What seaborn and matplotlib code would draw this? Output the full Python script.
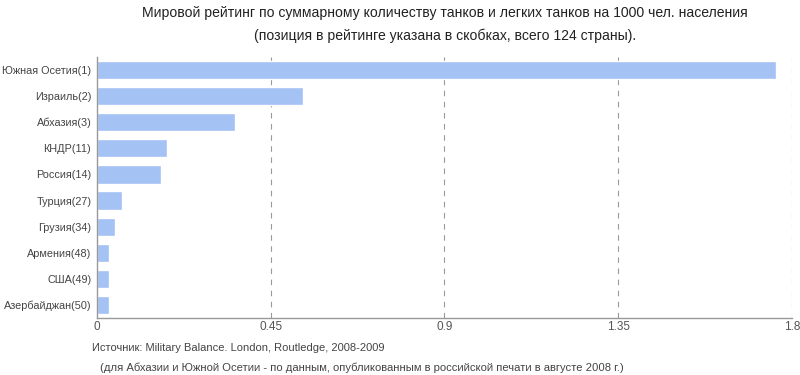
import matplotlib
matplotlib.use("Agg")
import matplotlib.pyplot as plt
import seaborn as sns
import pandas as pd

countries = ["Южная Осетия(1)", "Израиль(2)", "Абхазия(3)", "КНДР(11)", "Россия(14)",
             "Турция(27)", "Грузия(34)", "Армения(48)", "США(49)", "Азербайджан(50)"]
values = [1.759, 0.534, 0.357, 0.181, 0.166, 0.065, 0.047, 0.032, 0.032, 0.031]
x_ticks = [0, 0.45, 0.9, 1.35, 1.8]
x_tick_labels = ["0", "0.45", "0.9", "1.35", "1.8"]

sns.set_style("white")
plt.rcParams["font.family"] = ["Liberation Sans", "DejaVu Sans"]

df = pd.DataFrame({"country": countries, "value": values})

fig = plt.figure(figsize=(8, 3.75), dpi=100)
ax = fig.add_axes([0.121, 0.152, 0.869, 0.696])

sns.barplot(data=df, y="country", x="value", color="#a4c2f4", saturation=1,
            width=0.7, ax=ax)

ax.set_xlim(0, 1.8)
ax.set_ylim(9.5, -0.5)
ax.set_xticks(x_ticks)
ax.set_xticklabels(x_tick_labels)
ax.set_xlabel("")
ax.set_ylabel("")

for x in x_ticks[1:]:
    ax.axvline(x, color="#999999", linestyle=(0, (5, 5)), linewidth=0.8, zorder=0)

for side in ["top", "right"]:
    ax.spines[side].set_visible(False)
for side in ["left", "bottom"]:
    ax.spines[side].set_color("#999999")
    ax.spines[side].set_linewidth(1)

ax.tick_params(axis="y", length=3, color="#999999", labelsize=7.8, labelcolor="#444444", pad=1)
ax.tick_params(axis="x", length=4, color="#999999", labelsize=8.5, labelcolor="#555555", pad=2,
               direction="in")

fig.text(0.556, 0.965, "Мировой рейтинг по суммарному количеству танков и легких танков на 1000 чел. населения",
         ha="center", va="center", fontsize=10.1, color="#222222")
fig.text(0.556, 0.905, "(позиция в рейтинге указана в скобках, всего 124 страны).",
         ha="center", va="center", fontsize=10.1, color="#222222")

fig.text(0.115, 0.072, "Источник: Military Balance. London, Routledge, 2008-2009",
         ha="left", va="center", fontsize=8, color="#444444")
fig.text(0.125, 0.02, "(для Абхазии и Южной Осетии - по данным, опубликованным в российской печати в августе 2008 г.)",
         ha="left", va="center", fontsize=8.1, color="#444444")

fig.savefig("out.png", dpi=100)
